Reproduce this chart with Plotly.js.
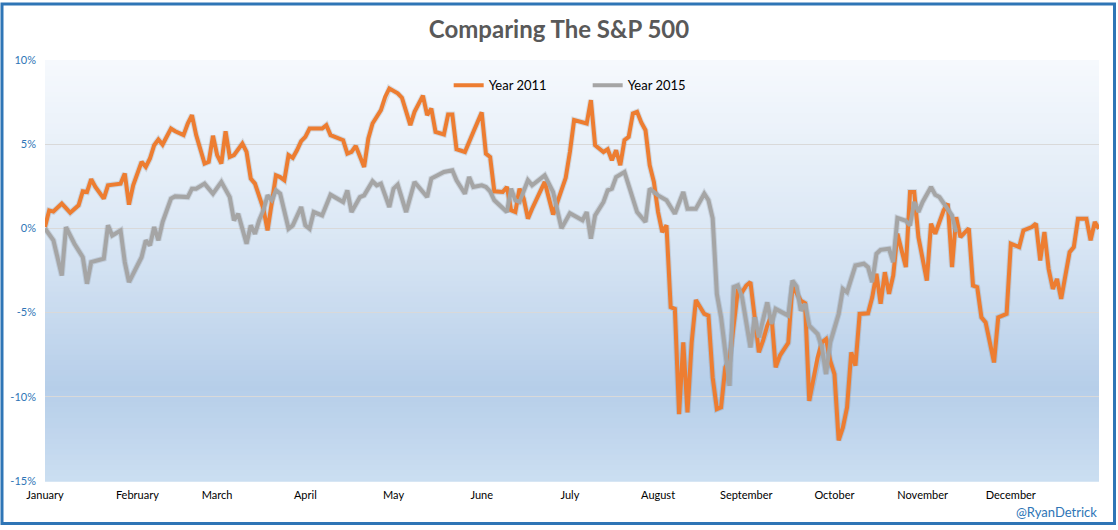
<!DOCTYPE html>
<html>
<head>
<meta charset="utf-8">
<script src="https://cdn.plot.ly/plotly-3.0.1.min.js"></script>
<style>
  html, body { margin: 0; padding: 0; background: #ffffff; }
  #chart { width: 1118px; height: 530px; }
</style>
</head>
<body>
<div id="chart"></div>
<script>
// ---- DATA (trading-day index, % change year to date) ----
const days2011 = [0,1,2,4,5,6,8,9,10,11,12,14,15,18,19,20,21,23,24,25,26,27,28,30,31,33,34,35,36,38,39,40,41,42,43,44,45,47,48,49,50,51,52,53,54,55,56,57,58,59,60,61,62,63,66,67,68,71,72,73,74,76,77,78,80,81,82,84,85,87,88,90,91,92,93,95,96,97,98,100,102,104,105,106,107,109,110,111,112,113,114,115,116,119,121,122,123,124,125,126,129,130,131,133,134,135,136,137,138,139,140,141,142,143,144,145,146,147,148,149,150,151,152,153,154,155,157,158,159,160,161,162,163,165,166,167,168,169,170,171,172,173,174,175,177,178,180,181,182,184,185,186,187,188,189,190,191,192,193,194,196,197,198,199,200,201,202,203,205,206,207,208,210,211,212,214,215,216,217,218,220,221,222,223,224,226,227,229,230,232,233,235,236,237,238,239,240,241,242,244,245,246,248,249,250,251];
const pct2011 = [0.08,1.07,1.0,1.47,1.2,0.93,1.37,2.2,2.16,2.92,2.46,1.77,2.56,2.66,3.26,1.41,2.56,3.95,3.65,4.15,4.94,5.28,4.98,5.93,5.77,5.54,6.23,6.73,5.54,3.85,3.95,5.5,4.35,3.85,5.77,4.24,4.35,5.04,4.54,2.96,2.66,1.96,1.17,-0.12,1.37,3.15,3.05,2.86,4.35,4.19,4.64,5.18,5.44,5.93,5.93,6.13,5.54,5.24,4.44,4.54,4.9,3.65,5.34,6.23,7.02,7.81,8.31,8.02,7.76,6.13,6.92,7.88,6.73,7.12,5.73,5.58,6.77,6.77,4.7,4.54,5.73,6.89,4.44,4.24,2.2,2.16,2.46,1.07,0.97,2.36,1.77,0.58,1.17,2.76,0.82,1.57,2.36,3.0,4.54,6.43,6.23,7.62,4.94,4.54,4.7,4.05,4.64,3.75,5.24,5.44,6.83,6.92,6.29,5.83,3.75,2.76,0.97,-0.22,0.18,-4.68,-4.78,-11.03,-6.77,-10.93,-6.77,-4.25,-5.08,-5.18,-8.85,-10.73,-10.63,-8.25,-7.86,-3.69,-3.79,-3.39,-3.19,-5.48,-7.36,-6.67,-5.77,-5.18,-8.25,-7.56,-6.8,-3.4,-4.29,-4.44,-10.24,-7.66,-6.77,-6.57,-7.86,-8.65,-12.58,-11.83,-10.63,-7.36,-8.15,-5.08,-5.04,-4.09,-2.7,-4.48,-2.6,-3.89,-2.8,-0.32,-2.3,2.16,2.16,-0.52,-3.1,0.28,-0.32,1.07,1.47,-2.3,0.67,-0.52,0.0,-3.39,-3.49,-5.28,-5.58,-7.96,-5.28,-5.08,-0.91,-1.11,-0.12,0.08,0.28,-1.9,-0.22,-2.4,-3.59,-3.0,-4.18,-1.41,-1.11,0.58,0.58,-0.71,0.38,-0.02];

const days2015 = [0,2,4,5,7,9,10,11,14,15,16,18,19,20,23,24,25,26,27,28,30,31,34,35,36,38,40,42,44,45,46,48,49,50,51,52,53,54,55,56,58,59,61,62,63,64,66,68,71,72,73,75,76,78,79,80,82,83,84,86,88,91,92,95,97,98,100,101,102,104,105,106,107,110,111,112,113,115,116,118,119,121,123,125,128,129,130,131,133,134,135,136,138,139,141,143,144,146,148,150,152,153,155,157,158,159,160,161,162,163,164,165,166,168,169,170,172,173,174,177,178,179,180,181,182,184,185,186,187,189,190,191,193,195,196,197,198,199,201,202,203,205,206,207,208,209,211,212,213,215,216,217];
const pct2015 = [0.0,-0.71,-2.8,0.08,-0.91,-1.71,-3.29,-2.0,-1.8,0.18,-0.42,-0.12,-2.0,-3.19,-1.71,-0.71,-1.01,0.08,-0.71,0.38,1.77,1.9,1.86,2.36,2.36,2.66,2.06,2.76,1.86,0.48,0.87,-0.91,0.18,-0.32,0.48,1.07,1.96,1.67,2.26,2.06,-0.02,0.18,1.27,0.18,-0.02,0.97,0.77,2.0,1.57,2.26,0.97,1.86,1.96,2.8,2.56,2.66,1.27,2.36,2.6,0.97,2.76,1.86,2.96,3.35,3.45,2.86,2.06,3.05,2.46,2.56,2.46,2.2,1.67,0.97,2.36,1.67,1.57,2.86,2.56,2.96,3.15,2.16,0.0,0.9,0.48,0.97,-0.61,0.77,1.57,2.26,2.36,3.05,3.35,2.56,0.97,0.38,2.36,1.96,1.67,0.87,2.16,1.17,1.17,2.06,1.67,0.6,-3.89,-5.28,-7.26,-9.35,-3.49,-3.39,-4.09,-7.07,-5.28,-6.47,-4.39,-5.67,-4.78,-5.18,-3.1,-3.45,-4.88,-4.48,-5.77,-6.27,-7.07,-8.65,-6.77,-5.08,-3.59,-3.79,-2.2,-2.1,-2.3,-3.19,-1.51,-1.27,-1.21,-2.0,0.62,0.45,0.18,1.57,0.97,1.57,2.46,2.0,1.86,1.07,0.77,-0.22];

const monthNames = ["January","February","March","April","May","June","July","August","September","October","November","December"];
const monthLabelDays = [0,22,41,62,83,104,125,146,167,188,209,230];
const yTickVals = [10,5,0,-5,-10,-15];
const yTickText = ["10%","5%","0%","-5%","-10%","-15%"];

// ---- STYLE ----
const ORANGE = "#ed7d31", GRAY = "#a5a5a5", BLUE = "#2e75b6";
const FONT = "Lato, 'Open Sans', sans-serif";

function hex2rgb(h){ return [parseInt(h.substr(1,2),16),parseInt(h.substr(3,2),16),parseInt(h.substr(5,2),16)]; }
const stops = [[0,"#f6f9fd"],[0.4,"#dce8f5"],[0.78,"#b6cee9"],[1,"#cbdef1"]];
function gradColor(t){
  for (let i=0;i<stops.length-1;i++){
    if (t>=stops[i][0] && t<=stops[i+1][0]){
      const f=(t-stops[i][0])/(stops[i+1][0]-stops[i][0]);
      const a=hex2rgb(stops[i][1]), b=hex2rgb(stops[i+1][1]);
      return "rgb("+a.map((v,k)=>Math.round(v+(b[k]-v)*f)).join(",")+")";
    }
  }
  return stops[stops.length-1][1];
}
const shapes = [];
const NB = 80;
for (let i=0;i<NB;i++){
  const t=(i+0.5)/NB;
  shapes.push({type:"rect", xref:"paper", yref:"paper", x0:0, x1:1,
    y1: 1 - i/NB, y0: 1 - (i+1)/NB - 0.002, fillcolor: gradColor(t),
    line:{width:0}, layer:"below"});
}
// chart frame
shapes.push({type:"rect", xref:"paper", yref:"paper",
  x0:-0.0408, x1:1.0147, y0:-0.101, y1:1.133,
  line:{color:BLUE, width:3}, fillcolor:"rgba(0,0,0,0)", layer:"above"});

const traces = [
  {x:days2011, y:pct2011, mode:"lines", line:{color:"rgba(40,40,40,0.12)", width:6}, showlegend:false, hoverinfo:"skip"},
  {x:days2015, y:pct2015, mode:"lines", line:{color:"rgba(40,40,40,0.12)", width:6}, showlegend:false, hoverinfo:"skip"},
  {x:days2011, y:pct2011, mode:"lines", name:"Year 2011", line:{color:ORANGE, width:4}},
  {x:days2015, y:pct2015, mode:"lines", name:"Year 2015", line:{color:GRAY, width:4}}
];

const layout = {
  width:1118, height:530,
  margin:{l:45, r:19, t:60, b:49},
  paper_bgcolor:"#ffffff",
  plot_bgcolor:"rgba(0,0,0,0)",
  font:{family:FONT, size:11, color:"#000000"},
  title:{text:"<b>Comparing The S&P 500</b>", x:0.5, xanchor:"center", y:0.944, yanchor:"middle",
    font:{family:FONT, size:24, color:"#595959"}},
  showlegend:true,
  legend:{orientation:"h", x:0.383, xanchor:"left", y:0.94, yanchor:"middle",
    bgcolor:"rgba(0,0,0,0)", font:{family:FONT, size:13, color:"#000000"},
    entrywidth:94, entrywidthmode:"pixels", traceorder:"normal"},
  xaxis:{range:[0,251], showgrid:false, zeroline:false, showline:false, ticks:"",
    tickmode:"array", tickvals:monthLabelDays, ticktext:monthNames,
    ticklabelstandoff:6,
    tickfont:{family:FONT, size:11, color:"#000000"}, fixedrange:true},
  yaxis:{range:[-15,10], tickmode:"array", tickvals:yTickVals, ticktext:yTickText,
    showgrid:true, gridcolor:"#d9d9d9", gridwidth:1, zeroline:false, showline:false, ticks:"",
    ticklabelstandoff:8, tickfont:{family:FONT, size:11, color:BLUE}, fixedrange:true},
  shapes:shapes,
  annotations:[{text:"@RyanDetrick", xref:"paper", yref:"paper", x:1.0, y:-0.074,
    xanchor:"right", yanchor:"middle", showarrow:false,
    font:{family:FONT, size:13, color:BLUE}}]
};

Plotly.newPlot("chart", traces, layout, {displayModeBar:false, staticPlot:true});
</script>
</body>
</html>
